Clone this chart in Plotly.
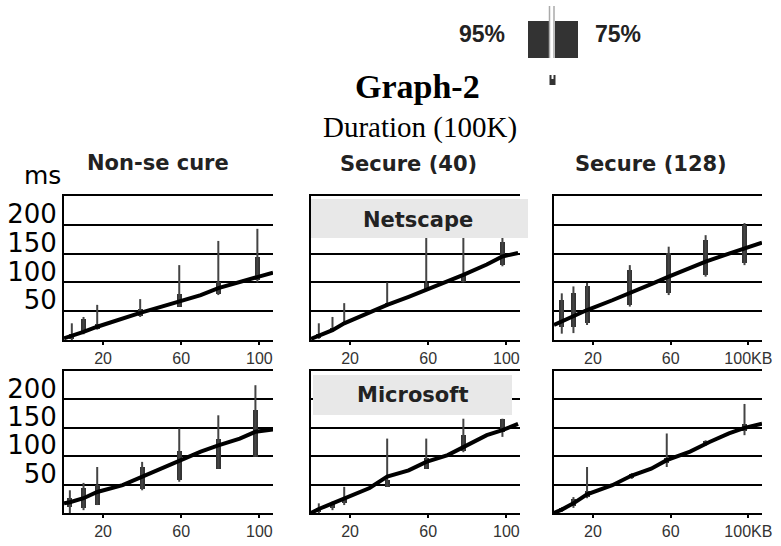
import plotly.graph_objects as go

# ---------------- data ----------------
col_titles = ["Non-se cure", "Secure (40)", "Secure (128)"]
row_labels = ["Netscape", "Microsoft"]
y_ticks = [50, 100, 150, 200, 250]
y_tick_text = ["50", "100", "150", "200", ""]
x_ticks = [20, 60, 100]
x_tick_text_a = ["20", "60", "100"]
x_tick_text_b = ["20", "60", "100KB"]

# Netscape / Non-secure
p1_mx = [0, 4, 10, 17, 25, 39, 50, 59, 70, 79, 90, 99, 107]
p1_my = [3, 7, 14, 23, 32, 47, 58, 67, 78, 90, 101, 110, 117]
p1_bx = [4, 10, 17, 39, 59, 79, 99]
p1_wlo = [0, 10, 18, 40, 58, 78, 100]
p1_whi = [29, 40, 61, 71, 130, 172, 193]
p1_qlo = [2, 12, 19, 42, 58, 80, 104]
p1_qhi = [10, 37, 27, 54, 80, 100, 144]

# Netscape / Secure (40)
p2_mx = [0, 4, 11, 17, 28, 39, 50, 59, 70, 78, 90, 98, 106]
p2_my = [2, 8, 17, 29, 45, 61, 75, 87, 101, 113, 131, 145, 151]
p2_bx = [4, 11, 17, 39, 59, 78, 98]
p2_wlo = [2, 14, 26, 58, 85, 100, 128]
p2_whi = [29, 40, 64, 100, 182, 182, 182]
p2_qlo = [4, 15, 27, 59, 86, 101, 130]
p2_qhi = [10, 20, 32, 64, 99, 113, 171]

# Netscape / Secure (128)
p3_mx = [0, 4, 10, 17, 30, 39, 50, 59, 70, 78, 90, 98, 107]
p3_my = [26, 32, 40, 52, 69, 81, 97, 110, 125, 136, 150, 159, 169]
p3_bx = [4, 10, 17, 39, 59, 78, 98]
p3_wlo = [11, 12, 26, 58, 78, 110, 130]
p3_whi = [81, 93, 99, 130, 162, 182, 203]
p3_qlo = [23, 23, 29, 61, 82, 113, 133]
p3_qhi = [69, 81, 93, 122, 151, 174, 200]

# Microsoft / Non-secure
p4_mx = [0, 3, 10, 17, 30, 40, 50, 59, 70, 79, 90, 98, 107]
p4_my = [17, 19, 26, 37, 49, 64, 78, 93, 108, 119, 131, 143, 147]
p4_bx = [3, 10, 17, 40, 59, 79, 98]
p4_wlo = [0, 5, 14, 40, 55, 78, 99]
p4_whi = [40, 53, 81, 90, 149, 172, 225]
p4_qlo = [10, 9, 14, 42, 58, 78, 99]
p4_qhi = [26, 44, 49, 81, 110, 131, 181]

# Microsoft / Secure (40)
p5_mx = [0, 4, 11, 17, 30, 39, 50, 59, 70, 78, 90, 98, 106]
p5_my = [0, 7, 17, 25, 44, 64, 75, 90, 102, 116, 137, 146, 157]
p5_bx = [4, 11, 17, 39, 59, 78, 98]
p5_wlo = [0, 5, 14, 46, 78, 107, 134]
p5_whi = [17, 20, 46, 131, 131, 166, 166]
p5_qlo = [2, 8, 18, 46, 78, 110, 143]
p5_qhi = [8, 16, 24, 58, 96, 137, 166]

# Microsoft / Secure (128)
p6_mx = [0, 4, 10, 17, 30, 40, 50, 58, 70, 80, 90, 98, 107]
p6_my = [0, 6, 17, 33, 49, 66, 78, 93, 108, 125, 140, 150, 157]
p6_bx = [4, 10, 17, 40, 58, 78, 98]
p6_wlo = [2, 9, 26, 60, 81, 118, 137]
p6_whi = [10, 28, 81, 70, 140, 128, 192]
p6_qlo = [3, 12, 28, 61, 88, 120, 145]
p6_qhi = [8, 24, 38, 68, 96, 126, 157]

panels = [
    (p1_mx, p1_my, p1_bx, p1_wlo, p1_whi, p1_qlo, p1_qhi),
    (p2_mx, p2_my, p2_bx, p2_wlo, p2_whi, p2_qlo, p2_qhi),
    (p3_mx, p3_my, p3_bx, p3_wlo, p3_whi, p3_qlo, p3_qhi),
    (p4_mx, p4_my, p4_bx, p4_wlo, p4_whi, p4_qlo, p4_qhi),
    (p5_mx, p5_my, p5_bx, p5_wlo, p5_whi, p5_qlo, p5_qhi),
    (p6_mx, p6_my, p6_bx, p6_wlo, p6_whi, p6_qlo, p6_qhi),
]

# ---------------- layout helpers ----------------
W, H = 781, 546
def px(x):
    return x / W
def py(y):
    return 1 - y / H

col_dom = [(64, 273), (311, 520), (554, 762)]
row_dom = [(196, 340), (371, 513)]

SANS = "DejaVu Sans"
ARIAL = "Liberation Sans"
SERIF = "Liberation Serif"

fig = go.Figure()
layout = dict(
    width=W, height=H,
    margin=dict(l=0, r=0, t=0, b=0, pad=0, autoexpand=False),
    paper_bgcolor="white", plot_bgcolor="white",
    showlegend=False, bargap=0,
)

for i, (mx, my, bx, wlo, whi, qlo, qhi) in enumerate(panels):
    r, c = divmod(i, 3)
    n = i + 1
    xa = "x" if n == 1 else f"x{n}"
    ya = "y" if n == 1 else f"y{n}"
    # whiskers (95% range)
    wx, wy = [], []
    for xv, lo, hi in zip(bx, wlo, whi):
        wx += [xv, xv, None]
        wy += [lo, hi, None]
    fig.add_trace(go.Scatter(x=wx, y=wy, mode="lines", xaxis=xa, yaxis=ya,
                             line=dict(color="#444444", width=2), hoverinfo="skip"))
    # boxes (75% range)
    fig.add_trace(go.Bar(x=bx, y=[h - l for l, h in zip(qlo, qhi)], base=qlo,
                         width=2.6, xaxis=xa, yaxis=ya,
                         marker=dict(color="#333333", line=dict(width=0))))
    # mean line
    fig.add_trace(go.Scatter(x=mx, y=my, mode="lines", xaxis=xa, yaxis=ya,
                             line=dict(color="black", width=4)))

    x0, x1 = col_dom[c]
    y0, y1 = row_dom[r]
    xkey = "xaxis" if n == 1 else f"xaxis{n}"
    ykey = "yaxis" if n == 1 else f"yaxis{n}"
    layout[xkey] = dict(
        domain=[px(x0), px(x1)], anchor=ya, range=[0, 107],
        tickvals=x_ticks, ticktext=(x_tick_text_b if c == 2 else x_tick_text_a),
        ticks="outside", ticklen=3, tickwidth=2, tickcolor="black",
        showline=True, linecolor="black", linewidth=2, mirror=True,
        showgrid=False, zeroline=False,
        tickfont=dict(family=ARIAL, size=16, color="#333333"),
    )
    layout[ykey] = dict(
        domain=[py(y1), py(y0)], anchor=xa, range=[0, 250],
        tickvals=y_ticks, ticktext=y_tick_text,
        showticklabels=(c == 0), ticks="",
        ticklabelshift=-11,
        showline=True, linecolor="black", linewidth=2,
        showgrid=True, gridcolor="black", gridwidth=1.5, zeroline=False,
        tickfont=dict(family=SANS, size=26, color="black"),
    )

annotations = []
def ann(text, x, y, size, family, bold=False, color="black", xanchor="center"):
    annotations.append(dict(
        text=(f"<b>{text}</b>" if bold else text), x=px(x), y=py(y),
        xref="paper", yref="paper", xanchor=xanchor, yanchor="middle",
        showarrow=False, font=dict(family=family, size=size, color=color)))

ann("Graph-2", 418, 86, 34, SERIF, bold=True)
ann("Duration (100K)", 420, 127, 29, SERIF)
ann("95%", 482, 34, 23, ARIAL, bold=True, color="#222222")
ann("75%", 618, 34, 23, ARIAL, bold=True, color="#222222")
ann("ms", 42, 176, 25, SANS)
ann(col_titles[0], 158, 163, 21, SANS, bold=True, color="#222222")
ann(col_titles[1], 408, 164, 21, SANS, bold=True, color="#222222")
ann(col_titles[2], 651, 164, 21, SANS, bold=True, color="#222222")

shapes = []
def rect(xa, ya, xb, yb, fill, layer="above", lw=0, lc="rgba(0,0,0,0)"):
    shapes.append(dict(type="rect", xref="paper", yref="paper",
                       x0=px(xa), x1=px(xb), y0=py(yb), y1=py(ya),
                       fillcolor=fill, line=dict(width=lw, color=lc), layer=layer))
def vline(x, ya, yb, color, w):
    shapes.append(dict(type="line", xref="paper", yref="paper",
                       x0=px(x), x1=px(x), y0=py(yb), y1=py(ya),
                       line=dict(color=color, width=w), layer="above"))

# row label boxes
rect(311, 199, 528, 238, "#e8e8e8")
ann(row_labels[0], 418, 220, 21, SANS, bold=True, color="#222222")
rect(313, 375, 512, 415, "#e8e8e8")
ann(row_labels[1], 412, 395, 21, SANS, bold=True, color="#222222")

# legend icon
rect(528, 21, 549, 58, "#333333")
rect(555, 21, 578, 58, "#333333")
vline(549.5, 6, 58, "#aaaaaa", 1.5)
vline(554, 6, 58, "#aaaaaa", 1.5)
rect(549.5, 75, 555.5, 85, "#333333")
rect(551.5, 75, 553.5, 79, "white")

layout["annotations"] = annotations
layout["shapes"] = shapes
fig.update_layout(**layout)
fig.write_html(
    "out.html",
    config={"displayModeBar": False},
    post_script="document.body.style.margin='0px';document.body.style.overflow='hidden';",
)
